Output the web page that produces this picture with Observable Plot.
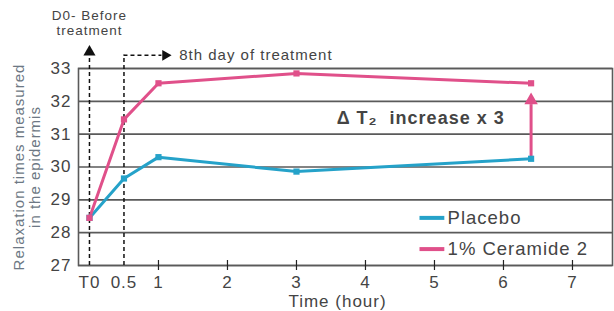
<!DOCTYPE html>
<html><head><meta charset="utf-8">
<script src="https://cdn.jsdelivr.net/npm/d3@7"></script>
<script src="https://cdn.jsdelivr.net/npm/@observablehq/plot@0.6"></script>
<style>
body{margin:0;background:#fff}
svg text{letter-spacing:1px}
</style></head><body><div id="chart"></div>
<script>
const times = [0, 0.5, 1, 3, 6.4];
const placebo = [28.45, 29.65, 30.3, 29.86, 30.25];
const ceramide = [28.45, 31.45, 32.55, 32.85, 32.55];
const seriesNames = ["Placebo", "1% Ceramide 2"];
const seriesColors = ["#25a2c9", "#e0508a"];
const xTickValues = [0, 0.5, 1, 2, 3, 4, 5, 6, 7];
const xTickLabels = ["T0", "0.5", "1", "2", "3", "4", "5", "6", "7"];
const yTickValues = [27, 28, 29, 30, 31, 32, 33];
const yLabel = "Relaxation times measured\nin the epidermis";
const xLabel = "Time (hour)";
const beforeLabel = "D0- Before\ntreatment";
const treatmentLabel = "8th day of treatment";
const deltaLabel = "Δ T₂  increase x 3";

const rows = times.flatMap((t, i) => [
  {series: seriesNames[0], t, v: placebo[i]},
  {series: seriesNames[1], t, v: ceramide[i]}
]);
const color = s => seriesColors[seriesNames.indexOf(s)];
const ink = "#444";
const grid = "#5a5a5a";

const chart = Plot.plot({
  width: 614, height: 311,
  marginLeft: 78, marginRight: 2, marginTop: 68, marginBottom: 46,
  style: {fontFamily: "Liberation Sans, Arial, sans-serif", background: "#fff"},
  x: {domain: [-0.159, 7.58]},
  y: {domain: [27, 33]},
  marks: [
    Plot.gridY(yTickValues, {stroke: grid, strokeOpacity: 1, strokeWidth: 1.6}),
    Plot.frame({stroke: grid, strokeWidth: 1.6}),
    Plot.axisY(yTickValues, {tickSize: 0, tickPadding: 7, fontSize: 17, fill: ink, label: null}),
    Plot.axisX(xTickValues, {tickSize: 0, tickPadding: 10, fontSize: 17, fill: ink, label: null,
      tickFormat: d => xTickLabels[xTickValues.indexOf(d)]}),
    Plot.ruleX(xTickValues.slice(2), {y1: 27, y2: 27, insetTop: 5, insetBottom: 5, stroke: "#222", strokeWidth: 1.2}),
    Plot.text([xLabel], {frameAnchor: "bottom", dy: 36, dx: -8, fontSize: 17, fill: ink, lineAnchor: "middle"}),
    Plot.text([yLabel], {frameAnchor: "left", textAnchor: "middle", dx: -52, rotate: -90, fontSize: 15, lineHeight: 1.1, fill: "#6d7884", lineAnchor: "middle"}),
    // dashed reference lines
    Plot.ruleX([0], {y1: 27, y2: 33.45, stroke: "#111", strokeWidth: 1.5, strokeDasharray: "4,3"}),
    Plot.dot([0], {x: d => d, y: 33.5, symbol: "triangle", r: 4.5, fill: "#111", stroke: null}),
    Plot.ruleX([0.5], {y1: 27, y2: 33.4, stroke: "#111", strokeWidth: 1.5, strokeDasharray: "4,3"}),
    Plot.ruleY([33.4], {x1: 0.5, x2: 1.05, stroke: "#111", strokeWidth: 1.5, strokeDasharray: "4,3"}),
    Plot.dot([1.1], {x: d => d, y: 33.4, symbol: "triangle", rotate: 90, r: 4, fill: "#111", stroke: null}),
    Plot.text([beforeLabel], {x: 0, y: 34.4, fontSize: 13.5, lineHeight: 1.12, fill: ink, lineAnchor: "middle"}),
    Plot.text([treatmentLabel], {x: 1.3, y: 33.4, fontSize: 15, fill: ink, textAnchor: "start"}),
    // delta annotation
    Plot.ruleX([6.4], {y1: 30.25, y2: 31.9, stroke: seriesColors[1], strokeWidth: 3}),
    Plot.dot([6.4], {x: d => d, y: 32.03, symbol: "triangle", r: 5, fill: seriesColors[1], stroke: null}),
    Plot.text([deltaLabel], {x: 4.8, y: 31.48, fontSize: 18, fontWeight: "bold", fill: ink}),
    // series
    Plot.line(rows, {x: "t", y: "v", z: "series", stroke: d => color(d.series), strokeWidth: 3}),
    Plot.dot(rows, {x: "t", y: "v", symbol: "square", r: 3.5, fill: d => color(d.series), stroke: null}),
    // legend
    Plot.ruleY(seriesNames, {y: (d, i) => [28.45, 27.5][i], x1: 4.79, x2: 5.15, stroke: (d, i) => seriesColors[i], strokeWidth: 4}),
    Plot.text(seriesNames, {x: 5.19, y: (d, i) => [28.45, 27.5][i], text: d => d, textAnchor: "start", fontSize: 18.5, fill: ink})
  ]
});
document.getElementById("chart").appendChild(chart);
</script></body></html>
